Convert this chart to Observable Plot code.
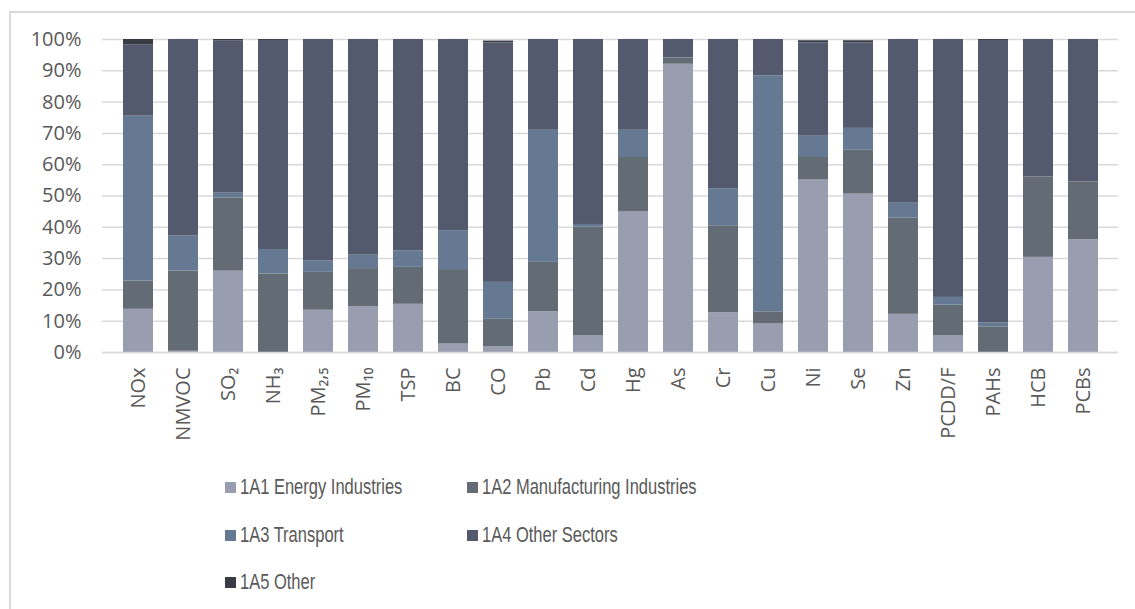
<!DOCTYPE html>
<html>
<head>
<meta charset="utf-8">
<script src="https://cdn.jsdelivr.net/npm/d3@7"></script>
<script src="https://cdn.jsdelivr.net/npm/@observablehq/plot@0.6"></script>
<style>
  html, body { margin: 0; padding: 0; background: #fff; }
  #wrap { position: relative; width: 1135px; height: 609px; overflow: hidden; }
  #frame { position: absolute; left: 9px; top: 11px; width: 1140px; height: 620px;
           border-left: 2px solid #d9d9d9; border-top: 2px solid #d9d9d9; box-sizing: border-box; }
  #chart { position: absolute; left: 0; top: 0; }
  #legend { position: absolute; left: 0; top: 455px; width: 1135px; height: 154px;
            font-family: "Liberation Sans", Arial, sans-serif;
            font-size: 22px; color: #595959; }
  .item { position: absolute; display: flex; align-items: center; white-space: nowrap; }
  .sw { width: 11px; height: 11px; margin-right: 4px; flex: none; }
  .txt { display: inline-block; transform: scaleX(0.75); transform-origin: 0 50%; }
</style>
</head>
<body>
<div id="wrap">
  <div id="frame"></div>
  <div id="chart"></div>
  <div id="legend"></div>
</div>
<script>
const categories = ["NOx","NMVOC","SO₂","NH₃","PM₂,₅","PM₁₀","TSP","BC","CO","Pb","Cd","Hg","As","Cr","Cu","Ni","Se","Zn","PCDD/F","PAHs","HCB","PCBs"];
const sectors = ["1A1 Energy Industries","1A2 Manufacturing Industries","1A3 Transport","1A4 Other Sectors","1A5 Other"];
const colors = ["#989eb0","#636b75","#657a92","#545a6e","#383c44"];

const energy    = [13.8, 0.4, 26.0, 0.0, 13.5, 14.7, 15.4, 2.7, 1.8, 13.0, 5.4, 44.9, 92.1, 12.7, 9.1, 55.1, 50.6, 12.2, 5.4, 0.0, 30.4, 36.0];
const manuf     = [9.0, 25.6, 23.4, 25.1, 12.1, 12.1, 11.8, 23.8, 8.8, 15.8, 34.7, 17.4, 1.9, 27.8, 3.9, 7.2, 14.0, 30.7, 9.7, 8.2, 25.7, 18.5];
const transport = [52.7, 11.2, 1.5, 7.8, 3.6, 4.3, 5.2, 12.4, 11.8, 42.2, 0.8, 8.7, 0.1, 11.7, 75.4, 6.8, 7.0, 4.8, 2.5, 1.3, 0.0, 0.0];
const others    = [22.7, 62.8, 48.7, 66.8, 70.8, 68.9, 67.6, 61.1, 76.5, 29.0, 59.1, 29.0, 5.9, 47.8, 11.6, 29.8, 27.3, 52.3, 82.4, 90.2, 43.9, 45.5];
const other1A5  = [1.8, 0.0, 0.4, 0.3, 0.0, 0.0, 0.0, 0.0, 0.6, 0.0, 0.0, 0.0, 0.0, 0.0, 0.0, 0.7, 0.7, 0.0, 0.0, 0.3, 0.0, 0.0];
const yTicks = [0,10,20,30,40,50,60,70,80,90,100];

const seriesValues = [energy, manuf, transport, others, other1A5];
const rows = [];
sectors.forEach((s, i) => {
  categories.forEach((c, j) => rows.push({cat: c, sector: s, value: seriesValues[i][j]}));
});

const plot = Plot.plot({
  width: 1135,
  height: 452,
  marginLeft: 102,
  marginRight: 17,
  marginTop: 39,
  marginBottom: 100,
  style: {fontFamily: "'Open Sans', sans-serif", fontSize: "20px", color: "#595959", background: "transparent"},
  x: {domain: categories, padding: 0.34, label: null, tickSize: 0, tickPadding: 15, tickRotate: -90},
  y: {domain: [0, 100], ticks: yTicks, tickFormat: d => d + "%", label: null, tickSize: 0, tickPadding: 21},
  color: {domain: sectors, range: colors},
  marks: [
    Plot.gridY(yTicks, {stroke: "#d9d9d9", strokeOpacity: 1, strokeWidth: 1.5}),
    Plot.barY(rows, {x: "cat", y: "value", fill: "sector", order: sectors}),
    Plot.ruleY([0], {stroke: "#d9d9d9", strokeWidth: 1.5})
  ]
});
document.getElementById("chart").appendChild(plot);

const legend = document.getElementById("legend");
const pos = [[225, 32], [467, 32], [225, 80], [467, 80], [225, 127]];
sectors.forEach((s, i) => {
  const it = document.createElement("div");
  it.className = "item";
  it.style.left = pos[i][0] + "px";
  it.style.top = (pos[i][1] - 14) + "px";
  it.style.height = "28px";
  const sw = document.createElement("div");
  sw.className = "sw";
  sw.style.background = colors[i];
  const t = document.createElement("span");
  t.className = "txt";
  t.textContent = s;
  it.appendChild(sw);
  it.appendChild(t);
  legend.appendChild(it);
});
</script>
</body>
</html>
